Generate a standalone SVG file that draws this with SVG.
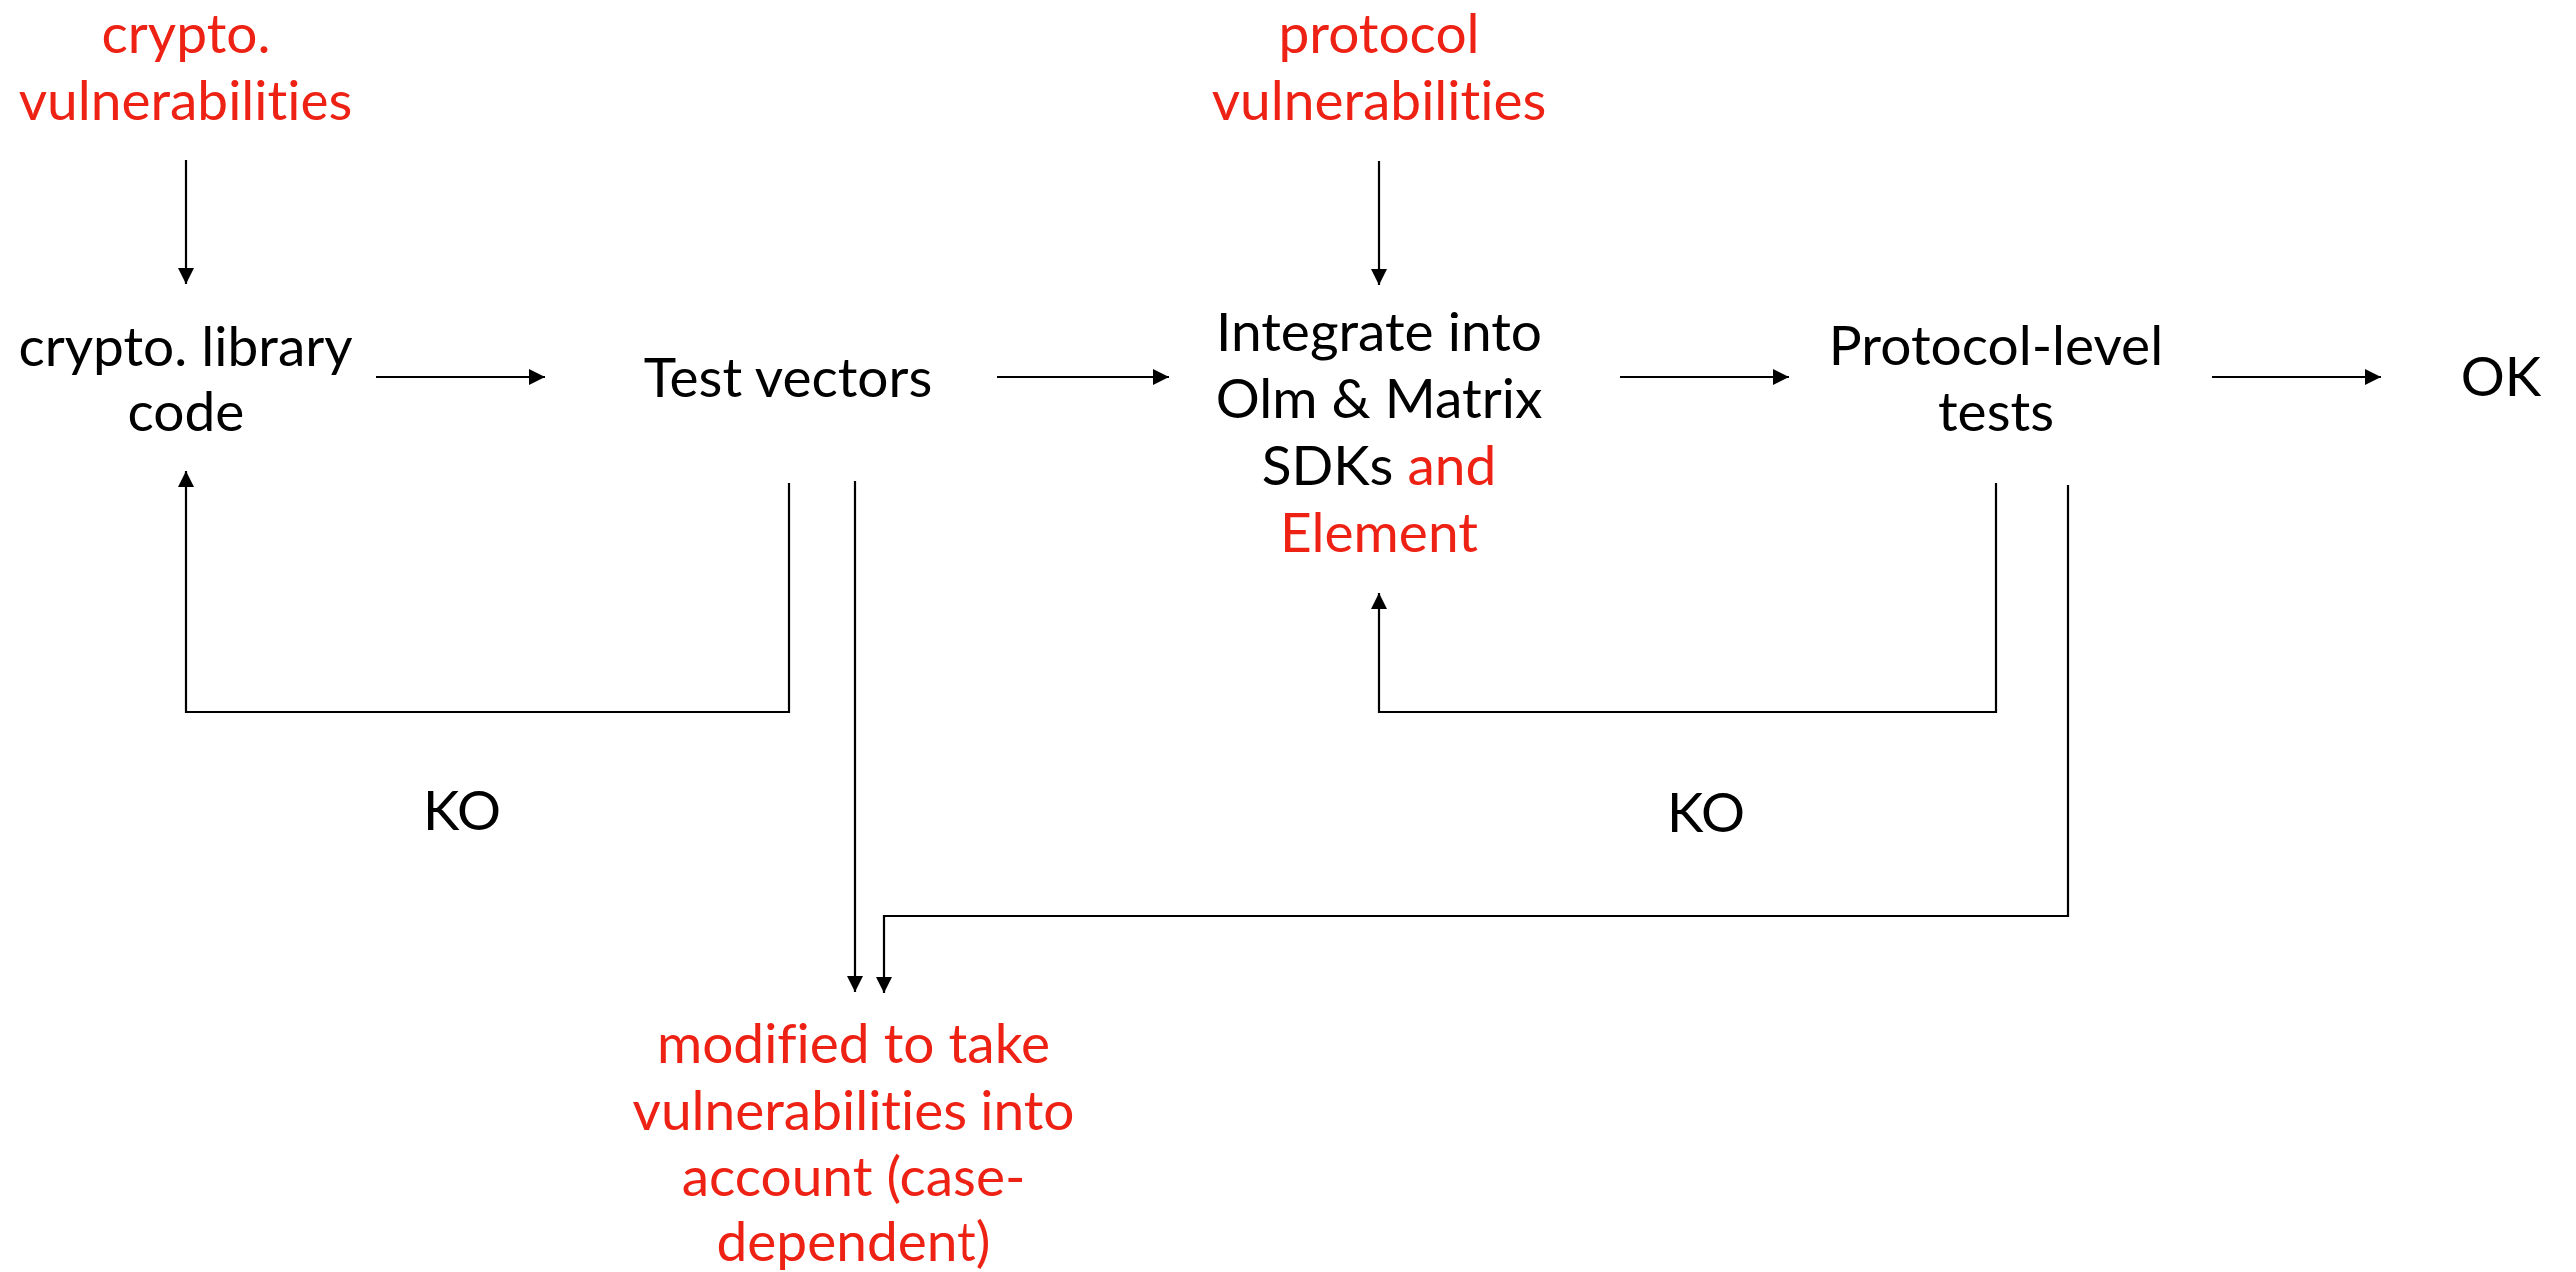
<svg xmlns="http://www.w3.org/2000/svg" width="2580" height="1274" viewBox="0 0 2580 1274">
<style>
text{font-family:Lato,"Open Sans","Liberation Sans",sans-serif;font-size:55px;text-anchor:middle;fill:#000;font-variant-ligatures:none;font-feature-settings:"liga" 0}
.r{fill:#EE2214}
.c{fill:none;stroke:#000;stroke-width:2.2}
</style>
<defs>
<marker id="ah" viewBox="0 0 16 16" refX="16" refY="8" markerWidth="16" markerHeight="16" markerUnits="userSpaceOnUse" orient="auto">
<path d="M0,0 L16,8 L0,16 Z" fill="#000"/>
</marker>
</defs>
<rect width="2580" height="1274" fill="#fff"/>
<g id="connectors">
<path class="c" d="M186 160 V284" marker-end="url(#ah)"/>
<path class="c" d="M377 378 H546" marker-end="url(#ah)"/>
<path class="c" d="M999 378 H1171" marker-end="url(#ah)"/>
<path class="c" d="M1381 161 V285" marker-end="url(#ah)"/>
<path class="c" d="M1623 378 H1792" marker-end="url(#ah)"/>
<path class="c" d="M2215 378 H2385" marker-end="url(#ah)"/>
<path class="c" d="M790 484 V713 H186 V472" marker-end="url(#ah)"/>
<path class="c" d="M1999 484 V713 H1381 V594" marker-end="url(#ah)"/>
<path class="c" d="M856 482 V994" marker-end="url(#ah)"/>
<path class="c" d="M2071 486 V917 H885 V995" marker-end="url(#ah)"/>
</g>
<g id="crypto-vuln"><text class="r" x="186" y="53">crypto.</text><text class="r" x="186" y="120">vulnerabilities</text></g>
<g id="crypto-lib"><text x="186" y="367">crypto. library</text><text x="186" y="432">code</text></g>
<g id="test-vectors"><text x="789" y="398">Test vectors</text></g>
<g id="protocol-vuln"><text class="r" x="1381" y="53">protocol</text><text class="r" x="1381" y="120">vulnerabilities</text></g>
<g id="integrate"><text x="1381" y="352">Integrate into</text><text x="1381" y="419">Olm &amp; Matrix</text><text x="1381" y="486">SDKs <tspan class="r">and</tspan></text><text class="r" x="1381" y="553">Element</text></g>
<g id="protocol-tests"><text x="1999" y="366">Protocol-level</text><text x="1999" y="432">tests</text></g>
<g id="ok"><text x="2505" y="397">OK</text></g>
<g id="ko-left"><text x="463" y="831">KO</text></g>
<g id="ko-right"><text x="1709" y="833">KO</text></g>
<g id="modified"><text class="r" x="855" y="1065">modified to take</text><text class="r" x="855" y="1132">vulnerabilities into</text><text class="r" x="855" y="1198">account (case-</text><text class="r" x="855" y="1263">dependent)</text></g>
</svg>
